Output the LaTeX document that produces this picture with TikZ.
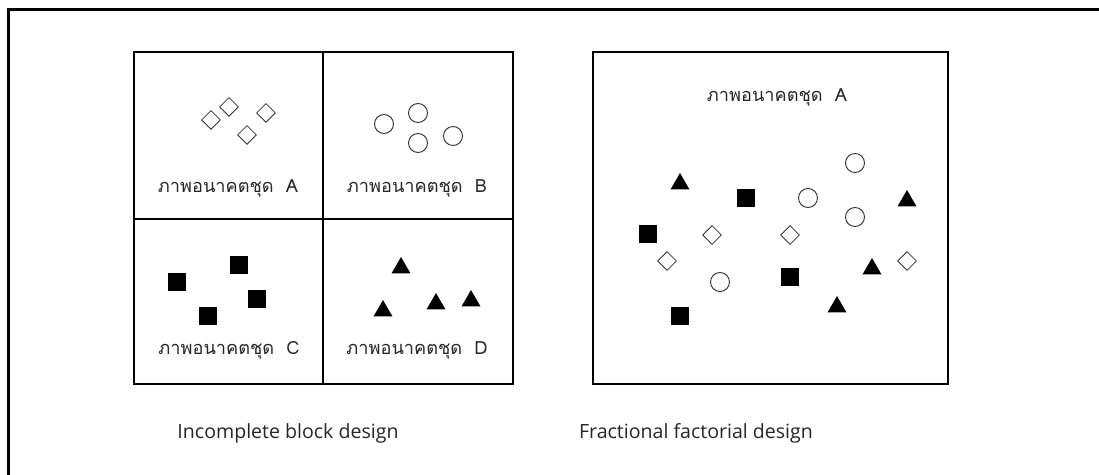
\documentclass[tikz,border=0pt]{standalone}
\usepackage{fontspec}
\setmainfont{Open Sans}
\newfontfamily\thaifont[Script=Thai]{Loma}
\usetikzlibrary{shapes.geometric}
\tikzset{
    dia/.style={draw=black!80, diamond, inner sep=0pt, minimum size=19*0.3mm, line width=0.7pt},
    circ/.style={draw=black!80, circle, inner sep=0pt, minimum size=19*0.3mm, line width=0.8pt},
    sq/.style={fill, rectangle, inner sep=0pt, minimum size=18*0.3mm},
    tri/.style={fill, regular polygon, regular polygon sides=3, inner sep=0pt, minimum size=22*0.3mm},
    lbl/.style={font=\thaifont\fontsize{15.5}{18}\selectfont, text=black!85},
    captxt/.style={font=\fontsize{16.7}{19}\selectfont, text=black!85}
}
\begin{document}
\begin{tikzpicture}[x=0.3mm, y=-0.3mm]
\useasboundingbox (0,0) rectangle (1099,475);
% outer frame
\draw[line width=0.9mm] (8,475) -- (8,10) -- (1099,10);
% incomplete block design
\draw[line width=1.2pt] (134,52) rectangle (513,384);
\draw[line width=1.2pt] (323,52) -- (323,384);
\draw[line width=1.2pt] (134,219) -- (513,219);
\foreach \x/\y/\p in {211/120/a1, 229/107/a2, 266/113/a3, 247/135/a4}{
    \node[dia] (\p) at (\x,\y) {};
}
\foreach \x/\y/\p in {384/124/b1, 418/113/b2, 418/143/b3, 453/136/b4}{
    \node[circ] (\p) at (\x,\y) {};
}
\foreach \x/\y/\p in {177/282/c1, 239/265/c2, 257/299/c3, 208/316/c4}{
    \node[sq] (\p) at (\x,\y) {};
}
\foreach \x/\y/\p in {401/268/d1, 383/311/d2, 436/304/d3, 471/301/d4}{
    \node[tri] (\p) at (\x,\y) {};
}
\foreach \x/\y/\p/\labeltext in {228/188/la/A, 417/188/lb/B, 229/350/lc/C, 417/350/ld/D}{
    \node[lbl] (\p) at (\x,\y) {ภาพอนาคตชุด\ \ \labeltext};
}
\node[captxt] (ibd) at (288,433) {Incomplete block design};
% fractional factorial design
\draw[line width=1.2pt] (593,52) rectangle (948,384);
\node[lbl] (fa) at (777,97) {ภาพอนาคตชุด\ \ A};
\foreach \x/\y/\p in {680/184/ft1, 907/201/ft2, 872/269/ft3, 837/307/ft4}{
    \node[tri] (\p) at (\x,\y) {};
}
\foreach \x/\y/\p in {746/198/fs1, 648/234/fs2, 790/277/fs3, 680/316/fs4}{
    \node[sq] (\p) at (\x,\y) {};
}
\foreach \x/\y/\p in {855/163/fc1, 808/198/fc2, 855/217/fc3, 720/282/fc4}{
    \node[circ] (\p) at (\x,\y) {};
}
\foreach \x/\y/\p in {712/235/fd1, 790/235/fd2, 667/261/fd3, 907/261/fd4}{
    \node[dia] (\p) at (\x,\y) {};
}
\node[captxt] (ffd) at (696,433) {Fractional factorial design};
\end{tikzpicture}
\end{document}
